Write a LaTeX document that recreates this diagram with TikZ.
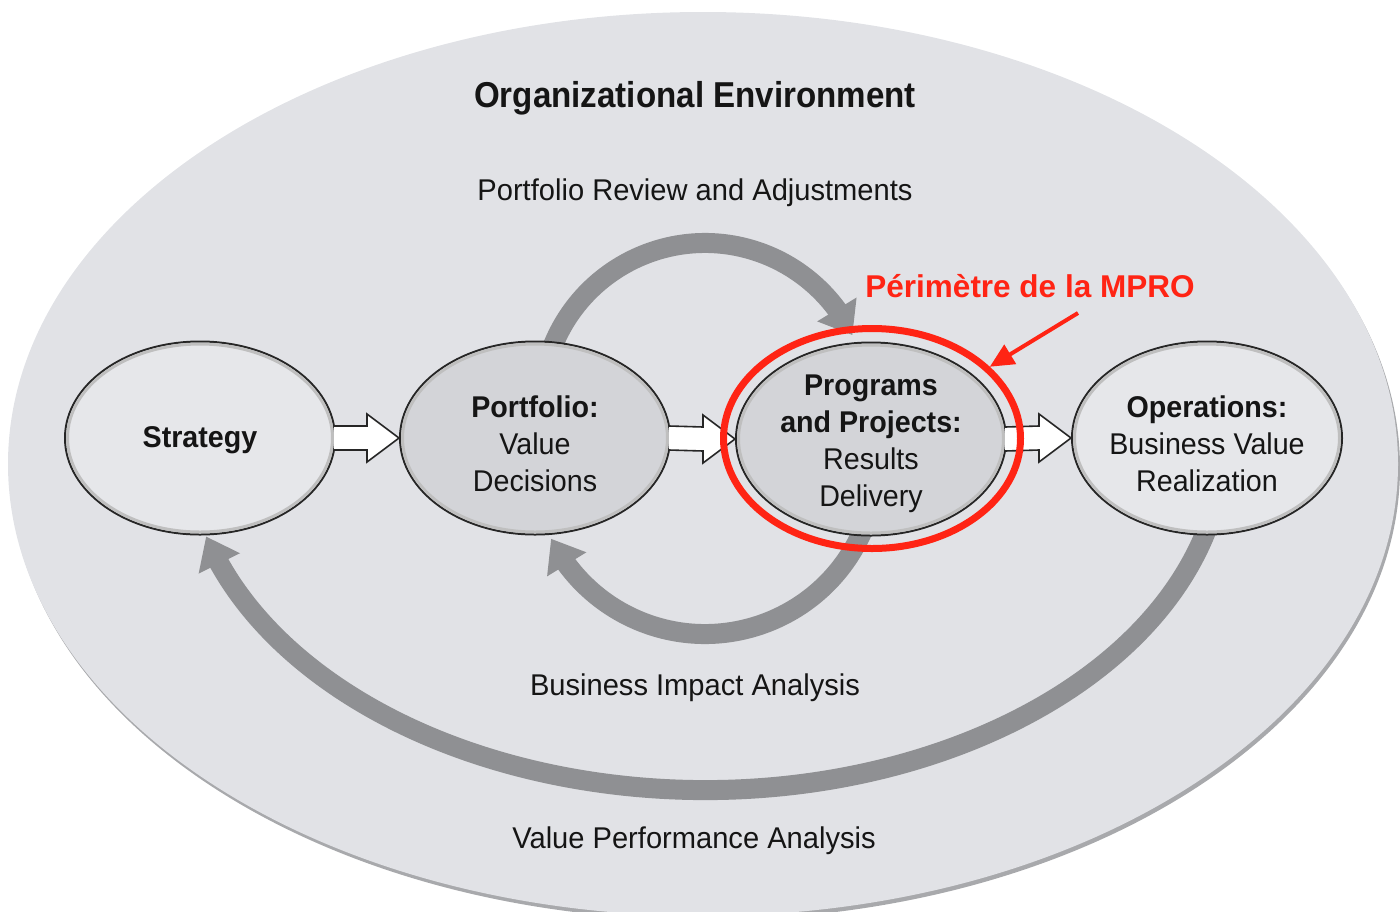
\documentclass[tikz,border=0pt]{standalone}
\usepackage{fontspec}
\setmainfont{Liberation Sans}
\newfontfamily\condf[FakeStretch=0.955]{Liberation Sans}
\newfontfamily\capf[FakeStretch=0.97]{Liberation Sans}
\newfontfamily\titlef[FakeStretch=0.92]{Liberation Sans}
\usetikzlibrary{shapes.geometric,arrows.meta,bending,calc}
\definecolor{envfill}{HTML}{E1E2E6}
\definecolor{envrim}{HTML}{A8A9AC}
\definecolor{lightnode}{HTML}{E6E7EA}
\definecolor{darknode}{HTML}{D3D4D8}
\definecolor{arrowgray}{HTML}{8F9093}
\definecolor{mred}{HTML}{FF2414}
\definecolor{ink}{HTML}{151515}
\pgfdeclarelayer{back}
\pgfdeclarelayer{arcs}
\pgfsetlayers{back,arcs,main}
\begin{document}
\begin{tikzpicture}[x=1pt,y=-1pt,
  stage/.style={ellipse, draw=black!85, line width=2pt, minimum width=270pt,
    minimum height=193pt, inner sep=0pt},
  bevel/.style={draw=gray!50, line width=3pt},
  stagetext/.style={align=center, text=ink, inner sep=0pt,
    font=\condf\fontsize{30}{37}\selectfont},
  caption/.style={anchor=base, text=ink, inner sep=0pt,
    font=\capf\fontsize{30}{36}\selectfont},
  flow/.style={draw=arrowgray, line width=20pt,
    -{Triangle[width=44pt,length=30pt]}},
  blockarrow/.style={fill=white, draw=black!85, line width=1.6pt, line join=miter},
  redarrow/.style={draw=mred, line width=4pt, -{Triangle[width=22pt,length=24pt]}}
]
\useasboundingbox (0,0) rectangle (1400,911);
\clip (0,0) rectangle (1400,911);

% environment
\begin{pgfonlayer}{back}
  \fill[envrim] (705,468) ellipse[x radius=695, y radius=452];
  \fill[envfill] (703,464) ellipse[x radius=695, y radius=452];
\end{pgfonlayer}

% stages
\node[stage, fill=lightnode] (strat) at (200,438) {};
\node[stage, fill=darknode]  (port)  at (535,438) {};
\node[stage, fill=darknode]  (prog)  at (871,439) {};
\node[stage, fill=lightnode] (oper)  at (1207,438) {};
\foreach \n in {strat,port,prog,oper}
  \draw[bevel] (\n.center) ellipse[x radius=132.5, y radius=94];

\node[stagetext] (strat-t) at (200,440) {\bfseries Strategy};
\node[stagetext] (port-t) at (535,444) {{\bfseries Portfolio:}\\Value\\Decisions};
\node[stagetext] (prog-t) at (871,444) {{\bfseries Programs}\\{\bfseries and Projects:}\\Results\\Delivery};
\node[stagetext] (oper-t) at (1207,444) {{\bfseries Operations:}\\Business Value\\Realization};

% feedback loops
\coordinate (c-top) at (705,407);
\coordinate (c-mid) at (705,462);
\coordinate (c-big) at (705,440);
\begin{pgfonlayer}{arcs}
  \draw[flow] ($(c-top)+(200:164)$) coordinate (top-s)
     arc[start angle=200, end angle=334, radius=164] coordinate (top-e);
  \draw[flow] ($(c-mid)+(24:172)$) coordinate (mid-s)
     arc[start angle=24, end angle=153.5, radius=172] coordinate (mid-e);
  \draw[flow] ($(c-big)+(14:519 and 350)$) coordinate (big-s)
     arc[start angle=14, end angle=164, x radius=519, y radius=350] coordinate (big-e);
\end{pgfonlayer}

% block arrows
\foreach \a/\b in {strat/port, port/prog, prog/oper}
  \draw[blockarrow] ($(\a.east)+(-2,-12)$) -- ($(\b.west)+(-32,-12)$)
     -- ($(\b.west)+(-32,-24)$) -- (\b.west) -- ($(\b.west)+(-32,24)$)
     -- ($(\b.west)+(-32,12)$) -- ($(\a.east)+(-2,12)$);

% highlight
\node[ellipse, draw=mred, line width=7pt, minimum width=297pt,
  minimum height=220pt, inner sep=0pt] (mpro) at (872,438.5) {};
\node[anchor=base, inner sep=0pt, text=mred,
  font=\bfseries\fontsize{31.5}{36}\selectfont] (mpro-l) at (1030,297)
  {Périmètre de la MPRO};
\coordinate (mpro-a) at (1078,313);
\draw[redarrow] (mpro-a) -- (mpro);

% captions
\node[anchor=base, text=ink, inner sep=0pt,
  font=\titlef\bfseries\fontsize{36}{40}\selectfont] (env) at (695,107)
  {Organizational Environment};
\node[caption] (review) at (695,200) {Portfolio Review and Adjustments};
\node[caption] (impact) at (695,695) {Business Impact Analysis};
\node[caption] (value) at (694,848) {Value Performance Analysis};
\end{tikzpicture}
\end{document}
